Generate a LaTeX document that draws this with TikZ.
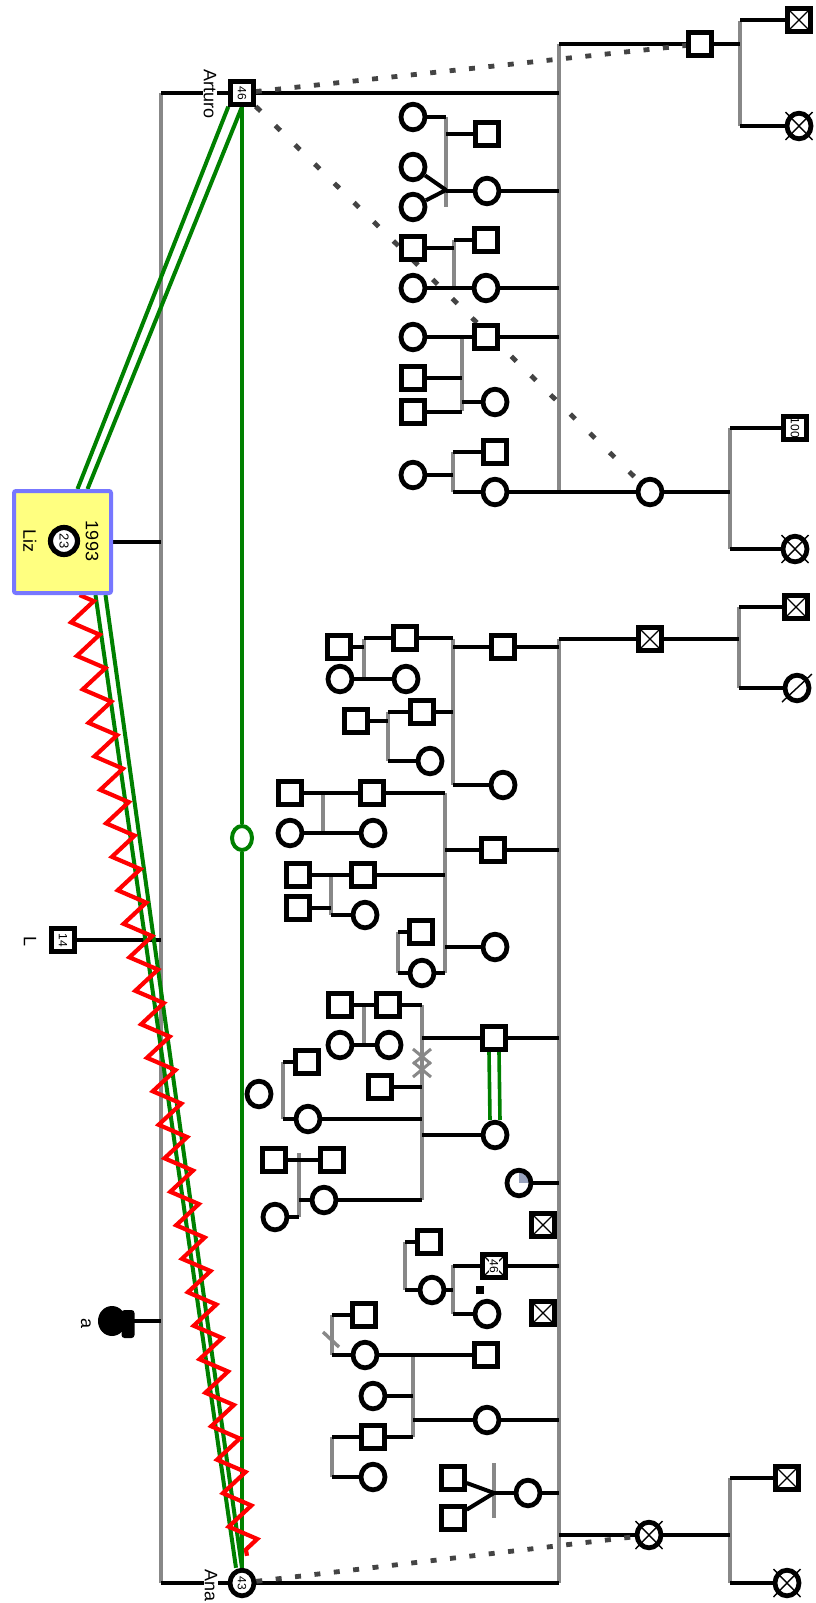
\documentclass[tikz,border=0pt]{standalone}
\usepackage{graphicx}
\usepackage{fontspec}
\setmainfont{Liberation Sans}
\usetikzlibrary{shapes.geometric,decorations.pathmorphing,calc}
\pgfdeclarelayer{bg}
\pgfsetlayers{bg,main}
\definecolor{gbar}{HTML}{888888}
\definecolor{grn}{HTML}{008000}
\definecolor{dotc}{HTML}{444444}
\definecolor{lizfill}{HTML}{FFFF80}
\definecolor{lizline}{HTML}{7777FF}
\definecolor{qfill}{HTML}{98A2BD}
\definecolor{zred}{HTML}{FF0000}
\newcommand\rotnum[1]{\rotatebox{-90}{#1}}
\newcommand\xcirc[1]{\draw[xl] (#1) ++(-13.5,-14) -- ++(27,28) (#1) ++(-13.5,14) -- ++(27,-28);}
\tikzset{
  P/.style={line width=2pt, black},
  G/.style={line width=1.9pt, gbar},
  M/.style={draw, rectangle, fill=white, line width=2.4pt, minimum size=11.3pt, inner sep=0pt, font=\fontsize{6}{6}\selectfont},
  F/.style={draw, ellipse, fill=white, line width=2.4pt, minimum width=12pt, minimum height=12.8pt, inner sep=0pt, font=\fontsize{6}{6}\selectfont},
  X/.style={path picture={\draw[line width=0.65pt] (path picture bounding box.south west) -- (path picture bounding box.north east) (path picture bounding box.north west) -- (path picture bounding box.south east);}},
  Q/.style={path picture={\fill[qfill] (path picture bounding box.center) rectangle (path picture bounding box.north east);}},
  xl/.style={line width=0.7pt, black},
  lab/.style={rotate=-90, font=\fontsize{9}{9}\selectfont, inner sep=0.5pt},
  grnl/.style={grn, line width=2pt},
  dots/.style={dotc, line width=2.4pt, dash pattern=on 3pt off 6.75pt},
  dashes/.style={dotc, line width=2.4pt, dash pattern=on 3.5pt off 10.25pt},
}
\begin{document}
\begin{tikzpicture}[x=0.5pt,y=-0.5pt]
\useasboundingbox (0,0) rectangle (815,1603);
% ---------- bar coordinates ----------
\coordinate (gLt) at (161,93);   \coordinate (gLb) at (161,1583);
\coordinate (gM1t) at (559,44);  \coordinate (gM1b) at (559,492);
\coordinate (gM2t) at (559,639); \coordinate (gM2b) at (559,1583);
\coordinate (gTRt) at (740,21);  \coordinate (gTRb) at (740,126);
\coordinate (gR2t) at (730,428); \coordinate (gR2b) at (730,549);
\coordinate (gR3t) at (739,607); \coordinate (gR3b) at (739,688);
\coordinate (gR4t) at (730,1478);\coordinate (gR4b) at (730,1583);
\coordinate (gAt) at (446,117);  \coordinate (gAb) at (446,207);
\coordinate (gBt) at (454,240);  \coordinate (gBb) at (454,288);
\coordinate (gCt) at (462,337);  \coordinate (gCb) at (462,411);
\coordinate (gDt) at (453,452);  \coordinate (gDb) at (453,492);
\coordinate (gFt) at (453,639);  \coordinate (gFb) at (453,785);
\coordinate (gFat) at (364,639); \coordinate (gFab) at (364,680);
\coordinate (gFbt) at (388,712); \coordinate (gFbb) at (388,761);
\coordinate (gGt) at (445,793);  \coordinate (gGb) at (445,973);
\coordinate (gGat) at (323,793); \coordinate (gGab) at (323,833);
\coordinate (gGbt) at (331,875); \coordinate (gGbb) at (331,915);
\coordinate (gGct) at (398,932); \coordinate (gGcb) at (398,973);
\coordinate (gHt) at (422,1005); \coordinate (gHb) at (422,1200);
\coordinate (gHat) at (364,1005);\coordinate (gHab) at (364,1045);
\coordinate (gHbt) at (283,1062);\coordinate (gHbb) at (283,1119);
\coordinate (gHct) at (299,1153);\coordinate (gHcb) at (299,1217);
\coordinate (gIat) at (405,1242);\coordinate (gIab) at (405,1290);
\coordinate (gIbt) at (453,1265);\coordinate (gIbb) at (453,1314);
\coordinate (gJat) at (332,1315);\coordinate (gJab) at (332,1355);
\coordinate (gJt) at (413,1355); \coordinate (gJb) at (413,1437);
\coordinate (gJbt) at (332,1437);\coordinate (gJbb) at (332,1477);
\coordinate (gKt) at (494,1463); \coordinate (gKb) at (494,1518);
\coordinate (apA) at (446,190);  \coordinate (apK) at (494,1493);
% ---------- left part ----------
\node[M] (arturo) at (242,93) {\rotnum{46}};
\node[F] (ana) at (242,1583) {\rotnum{43}};
\node[lab, fill=white] (arturoL) at (210,94) {Arturo};
\node[lab, fill=white] (anaL) at (211,1585) {Ana};
\node[draw=lizline, fill=lizfill, line width=2pt, rounded corners=1pt, minimum width=48.5pt, minimum height=51pt, inner sep=0pt] (liz) at (62.5,542) {};
\node[draw, circle, fill=white, line width=2.6pt, minimum size=13.5pt, inner sep=0pt, font=\fontsize{6.5}{7}\selectfont] (lizc) at (64,541) {\rotnum{23}};
\node[lab] (lizyear) at (92,541) {1993};
\node[lab] (lizname) at (30,541) {Liz};
\node[M] (lsq) at (63,940) {\rotnum{14}};
\node[lab] (lL) at (30,941) {L};
\node[fill=black, rectangle, rounded corners=1.5pt, minimum width=6.5pt, minimum height=14pt, inner sep=0pt] (aback) at (128,1324) {};
\node[fill=black, ellipse, minimum width=14pt, minimum height=15pt, inner sep=0pt] (apers) at (112,1321) {};
\node[lab] (aL) at (86,1323) {a};
\node[draw=grn, ellipse, line width=2pt, fill=white, minimum width=10pt, minimum height=12pt, inner sep=0pt] (gcirc) at (242,838) {};
% ---------- top right ----------
\node[M] (s1) at (700,44) {};
\node[M,X] (d1) at (799,20) {};
\node[F] (d2) at (799,126) {};
% block A
\node[F] (ca1) at (413,117) {};
\node[F] (ca2) at (413,167) {};
\node[F] (ca3) at (413,207) {};
\node[M] (sa) at (487,134) {};
\node[F] (ca4) at (487,191) {};
% block B
\node[M] (sb1) at (413,248) {};
\node[M] (sb2) at (486,240) {};
\node[F] (cb1) at (413,288) {};
\node[F] (cb2) at (486,288) {};
% block C
\node[F] (cc1) at (413,337) {};
\node[M] (sc1) at (486,337) {};
\node[M] (sc2) at (413,378) {};
\node[M] (sc3) at (413,412) {};
\node[F] (cc2) at (495,402) {};
% block D
\node[F] (cd1) at (413,475) {};
\node[M] (sd1) at (495,452) {};
\node[F] (cd2) at (495,492) {};
\node[F] (cd3) at (650,492) {};
\node[M] (r1) at (795,428) {\rotnum{100}};
\node[F] (r2) at (795,549) {};
% block E
\node[M,X] (d3) at (650,639) {};
\node[M,X] (d4) at (796,607) {};
\node[F] (cs) at (797,688) {};
% block F
\node[M] (sf1) at (503,647) {};
\node[M] (sf2) at (405,638) {};
\node[M] (sf3) at (339,647) {};
\node[F] (cf1) at (340,679) {};
\node[F] (cf2) at (406,679) {};
\node[M] (sf4) at (422,712) {};
\node[M] (sf5) at (356,721) {};
\node[F] (cf3) at (430,761) {};
\node[F] (cf4) at (503,785) {};
% block G
\node[M] (sg1) at (290,793) {};
\node[M] (sg2) at (372,793) {};
\node[F] (cg1) at (290,833) {};
\node[F] (cg2) at (373,833) {};
\node[M] (sg3) at (493,850) {};
\node[M] (sg4) at (298,875) {};
\node[M] (sg5) at (363,875) {};
\node[M] (sg6) at (298,908) {};
\node[F] (cg3) at (365,915) {};
\node[M] (sg7) at (421,932) {};
\node[F] (cg4) at (422,973) {};
\node[F] (cg5) at (495,947) {};
% block H
\node[M] (sh1) at (340,1005) {};
\node[M] (sh2) at (388,1005) {};
\node[F] (ch1) at (340,1045) {};
\node[F] (ch2) at (389,1045) {};
\node[M] (sh3) at (494,1038) {};
\node[F] (ch3) at (495,1135) {};
\node[M] (sh4) at (380,1087) {};
\node[F] (ch4) at (259,1094) {};
\node[M] (sh5) at (307,1062) {};
\node[F] (ch5) at (308,1119) {};
\node[M] (sh6) at (274,1160) {};
\node[M] (sh7) at (332,1160) {};
\node[F] (ch6) at (324,1200) {};
\node[F] (ch7) at (275,1217) {};
% block I
\node[F,Q] (ci1) at (519,1183) {};
\node[M,X] (xi1) at (543,1225) {};
\node[M] (si1) at (429,1242) {};
\node[F] (ci2) at (432,1290) {};
\node[M,X] (si2) at (494,1266) {};
\node[fill=white, inner sep=0.6pt, font=\fontsize{6}{6}\selectfont] (si2L) at (494,1266) {\rotnum{46}};
\node[fill=black, minimum size=4.2pt, inner sep=0pt] (mini) at (480,1290) {};
\node[F] (ci3) at (487,1314) {};
\node[M,X] (xi2) at (543,1313) {};
% block J
\node[M] (sj1) at (364,1315) {};
\node[F] (cj1) at (365,1355) {};
\node[M] (sj2) at (486,1355) {};
\node[F] (cj2) at (373,1396) {};
\node[F] (cj3) at (487,1420) {};
\node[M] (sj3) at (373,1437) {};
\node[F] (cj4) at (373,1477) {};
% block K
\node[M] (sk1) at (453,1478) {};
\node[M] (sk2) at (453,1518) {};
\node[F] (ck1) at (528,1493) {};
% bottom right
\node[F] (d5) at (649,1535) {};
\node[M,X] (d6) at (787,1478) {};
\node[F] (d7) at (787,1583) {};
% crosses on circles
\xcirc{d2} \xcirc{r2} \xcirc{d5} \xcirc{d7}
\draw[xl] (cs) ++(-15,14) -- ++(30,-28);
% ---------- connectors ----------
\begin{pgfonlayer}{bg}
\foreach \a/\b in {gLt/gLb,gM1t/gM1b,gM2t/gM2b,gTRt/gTRb,gR2t/gR2b,gR3t/gR3b,gR4t/gR4b,gAt/gAb,gBt/gBb,gCt/gCb,gDt/gDb,gFt/gFb,gFat/gFab,gFbt/gFbb,gGt/gGb,gGat/gGab,gGbt/gGbb,gGct/gGcb,gHt/gHb,gHat/gHab,gHbt/gHbb,gHct/gHcb,gIat/gIab,gIbt/gIbb,gJat/gJab,gJt/gJb,gJbt/gJbb,gKt/gKb}
  {\draw[G] (\a) -- (\b);}
\draw[P] (gLt) -- (arturo) -- (arturo -| gM1t);
\draw[P] (gLb) -- (ana) -- (ana -| gM2t);
\draw[P] (liz.east) -- (liz.east -| gLt);
\draw[P] (lsq) -- (lsq -| gLt);
\draw[P] (apers) -- (apers -| gLt);
\draw[P] (gM1t) -- (s1) -- (s1 -| gTRt);
\draw[P] (d1 -| gTRt) -- (d1);
\draw[P] (d2 -| gTRt) -- (d2);
\draw[P] (ca1) -- (ca1 -| gAt);
\draw[P] (ca2) -- (apA);
\draw[P] (ca3) -- (apA);
\draw[P] (sa -| gAt) -- (sa);
\draw[P] (ca4 -| gAt) -- (ca4) -- (ca4 -| gM1t);
\draw[P] (sb1) -- (sb1 -| gBt);
\draw[P] (sb2 -| gBt) -- (sb2);
\draw[P] (cb1) -- (cb2) -- (cb2 -| gM1t);
\draw[P] (cc1) -- (sc1) -- (sc1 -| gM1t);
\draw[P] (sc2) -- (sc2 -| gCt);
\draw[P] (sc3) -- (sc3 -| gCt);
\draw[P] (cc2 -| gCt) -- (cc2);
\draw[P] (cd1) -- (cd1 -| gDt);
\draw[P] (sd1 -| gDt) -- (sd1);
\draw[P] (cd2 -| gDt) -- (cd2) -- (cd3) -- (cd3 -| gR2t);
\draw[P] (r1 -| gR2t) -- (r1);
\draw[P] (r2 -| gR2t) -- (r2);
\draw[P] (gM2t) -- (d3) -- (d3 -| gR3t);
\draw[P] (d4 -| gR3t) -- (d4);
\draw[P] (cs -| gR3t) -- (cs);
\draw[P] (sf1 -| gFt) -- (sf1) -- (sf1 -| gM2t);
\draw[P] (sf2 -| gFat) -- (sf2) -- (sf2 -| gFt);
\draw[P] (sf3) -- (sf3 -| gFat);
\draw[P] (cf1) -- (cf2);
\draw[P] (sf4 -| gFbt) -- (sf4) -- (sf4 -| gFt);
\draw[P] (sf5) -- (sf5 -| gFbt);
\draw[P] (cf3 -| gFbt) -- (cf3);
\draw[P] (cf4 -| gFt) -- (cf4);
\draw[P] (sg1) -- (sg2) -- (sg2 -| gGt);
\draw[P] (cg1) -- (cg2);
\draw[P] (sg3 -| gGt) -- (sg3) -- (sg3 -| gM2t);
\draw[P] (sg4) -- (sg5) -- (sg5 -| gGt);
\draw[P] (sg6) -- (sg6 -| gGbt);
\draw[P] (cg3 -| gGbt) -- (cg3);
\draw[P] (sg7 -| gGct) -- (sg7);
\draw[P] (cg4 -| gGct) -- (cg4) -- (cg4 -| gGt);
\draw[P] (cg5 -| gGt) -- (cg5);
\draw[P] (sh1) -- (sh2) -- (sh2 -| gHt);
\draw[P] (ch1) -- (ch2);
\draw[P] (sh3 -| gHt) -- (sh3) -- (sh3 -| gM2t);
\draw[P] (ch3 -| gHt) -- (ch3);
\draw[P] (sh4) -- (sh4 -| gHt);
\draw[P] (sh5 -| gHbt) -- (sh5);
\draw[P] (ch5 -| gHbt) -- (ch5) -- (ch5 -| gHt);
\draw[P] (sh6) -- (sh7);
\draw[P] (ch6 -| gHct) -- (ch6) -- (ch6 -| gHt);
\draw[P] (ch7) -- (ch7 -| gHct);
\draw[P] (ci1) -- (ci1 -| gM2t);
\draw[P] (si1 -| gIat) -- (si1);
\draw[P] (ci2 -| gIat) -- (ci2) -- (ci2 -| gIbt);
\draw[P] (si2 -| gIbt) -- (si2) -- (si2 -| gM2t);
\draw[P] (ci3 -| gIbt) -- (ci3);
\draw[P] (sj1 -| gJat) -- (sj1);
\draw[P] (cj1 -| gJat) -- (cj1) -- (sj2);
\draw[P] (cj2) -- (cj2 -| gJt);
\draw[P] (cj3 -| gJt) -- (cj3) -- (cj3 -| gM2t);
\draw[P] (sj3 -| gJbt) -- (sj3) -- (sj3 -| gJt);
\draw[P] (cj4 -| gJbt) -- (cj4);
\draw[P] (sk1) -- (apK);
\draw[P] (sk2) -- (apK);
\draw[P] (ck1 -| gKt) -- (ck1) -- (ck1 -| gM2t);
\draw[P] (d5 -| gM2t) -- (d5) -- (d5 -| gR4t);
\draw[P] (d6 -| gR4t) -- (d6);
\draw[P] (d7 -| gR4t) -- (d7);
% gray marks
\draw[G, line width=1.5pt] (413,1049) -- (431,1064) (413,1064) -- (431,1049)
                           (413,1062) -- (431,1077) (413,1077) -- (431,1062);
\draw[G, line width=1.7pt] (323,1332) -- (339,1347);
% green relations
\draw[grnl] (arturo) -- (gcirc) -- (ana);
\draw[grnl] (arturo.south west) -- ($(liz.north)+(15,0)$);
\draw[grnl] (arturo.south) -- ($(liz.north)+(25,0)$);
\draw[grnl] ($(liz.south)+(33,0)$) -- ($(ana.north)+(-6,0)$);
\draw[grnl] ($(liz.south)+(43,0)$) -- (ana.north);
\draw[grnl, line width=1.8pt] ($(sh3.south)+(-5,0)$) -- ($(ch3.north)+(-5,0)$);
\draw[grnl, line width=1.8pt] ($(sh3.south)+(5,0)$) -- ($(ch3.north)+(5,0)$);
\draw[zred, line width=2.1pt, decorate, decoration={zigzag, segment length=17pt, amplitude=6.5pt}]
  ($(liz.south)+(17,0)$) -- ($(ana.north)+(5,-12)$);
% dotted relations
\draw[dots] (arturo) -- (s1);
\draw[dashes] (arturo) -- (cd3);
\draw[dots] (ana) -- (d5);
\end{pgfonlayer}
\end{tikzpicture}
\end{document}
